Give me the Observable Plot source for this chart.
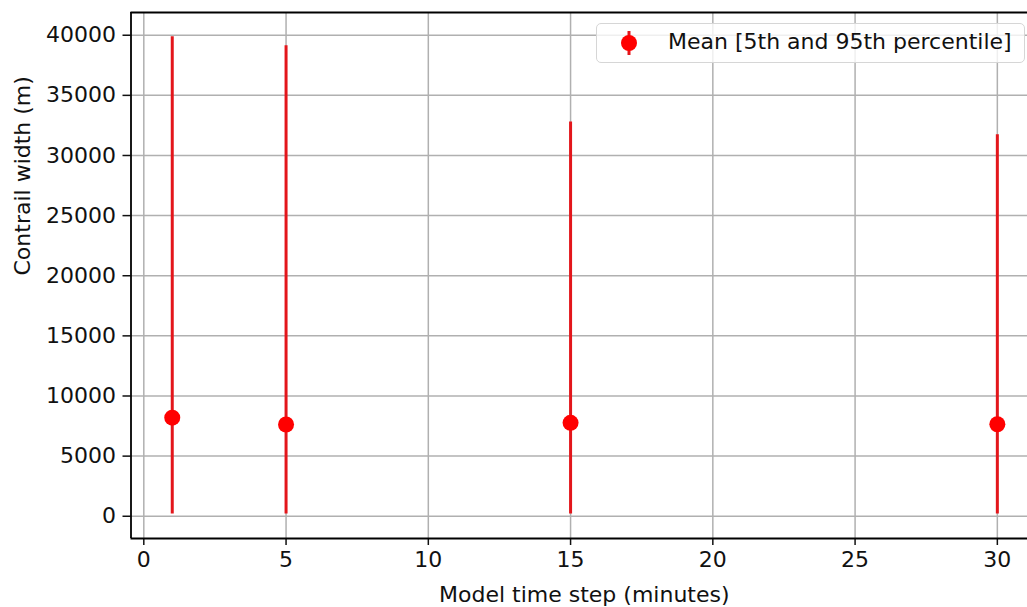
<!DOCTYPE html>
<html>
<head>
<meta charset="utf-8">
<script src="https://cdn.jsdelivr.net/npm/d3@7"></script>
<script src="https://cdn.jsdelivr.net/npm/@observablehq/plot@0.6"></script>
<style>
  html, body { margin: 0; padding: 0; background: #fff; }
  #wrap { position: relative; width: 1027px; height: 607px; overflow: hidden; font-family: "DejaVu Sans", sans-serif; }
  #legend {
    position: absolute; left: 596px; top: 23px; width: 429px; height: 40px;
    box-sizing: border-box; border: 1.5px solid #d6d6d6; border-radius: 5px;
    background: rgba(255,255,255,0.8); font-size: 22px; color: #111;
  }
  #legend svg { position: absolute; left: 22px; top: 6px; }
  #legend span { position: absolute; left: 71px; top: 5px; white-space: nowrap; }
</style>
</head>
<body>
<div id="wrap"></div>
<script>
const timeSteps = [1, 5, 15, 30];
const meanWidth = [8200, 7630, 7770, 7650];
const p5Width = [180, 180, 180, 180];
const p95Width = [39880, 39120, 32780, 31720];
const xTicks = [0, 5, 10, 15, 20, 25, 30];
const yTicks = [0, 5000, 10000, 15000, 20000, 25000, 30000, 35000, 40000];
const xDomain = [-0.45, 31.06];
const yDomain = [-1850, 41890];
const xLabel = "Model time step (minutes)";
const yLabel = "Contrail width (m)";
const legendLabel = "Mean [5th and 95th percentile]";

const data = timeSteps.map((t, i) => ({t, mean: meanWidth[i], lo: p5Width[i], hi: p95Width[i]}));

const gridColor = "#b0b0b0";
const lineRed = "#e3161b";
const dotRed = "#ff0000";

const chart = Plot.plot({
  width: 1027,
  height: 607,
  marginLeft: 130.5,
  marginRight: 0,
  marginTop: 12,
  marginBottom: 69,
  style: {fontFamily: "DejaVu Sans, sans-serif", fontSize: "22px", color: "#111", background: "white"},
  x: {domain: xDomain, ticks: xTicks},
  y: {domain: yDomain, ticks: yTicks},
  marks: [
    Plot.gridX(xTicks, {stroke: gridColor, strokeOpacity: 1, strokeWidth: 1.5}),
    Plot.gridY(yTicks, {stroke: gridColor, strokeOpacity: 1, strokeWidth: 1.5}),
    Plot.axisX(xTicks, {tickSize: 7, tickPadding: 6, tickFormat: d => String(d), label: null, fontSize: 22, stroke: "#111", strokeWidth: 1.5}),
    Plot.axisY(yTicks, {tickSize: 8, tickPadding: 7, tickFormat: d => String(d), label: null, fontSize: 22, stroke: "#111", strokeWidth: 1.5}),
    Plot.ruleX(data, {x: "t", y1: "lo", y2: "hi", stroke: lineRed, strokeWidth: 3}),
    Plot.dot(data, {x: "t", y: "mean", r: 8, fill: dotRed, stroke: null}),
    Plot.ruleX([xDomain[0]], {stroke: "#000", strokeWidth: 1.8}),
    Plot.ruleY([yDomain[0]], {stroke: "#000", strokeWidth: 1.8}),
    Plot.ruleY([yDomain[1]], {stroke: "#000", strokeWidth: 1.8}),
    Plot.text([xLabel], {frameAnchor: "bottom", dy: 63, dx: 5, fontSize: 22, fill: "#111"}),
    Plot.text([yLabel], {frameAnchor: "left", rotate: -90, dx: -108, fontSize: 22, fill: "#111"})
  ]
});

const wrap = document.getElementById("wrap");
wrap.appendChild(chart);

const legend = document.createElement("div");
legend.id = "legend";
legend.innerHTML = `<svg width="20" height="26" viewBox="0 0 20 26"><line x1="10" y1="1" x2="10" y2="25" stroke="${lineRed}" stroke-width="3"/><circle cx="10" cy="13" r="8" fill="${dotRed}"/></svg><span></span>`;
legend.querySelector("span").textContent = legendLabel;
wrap.appendChild(legend);
</script>
</body>
</html>
